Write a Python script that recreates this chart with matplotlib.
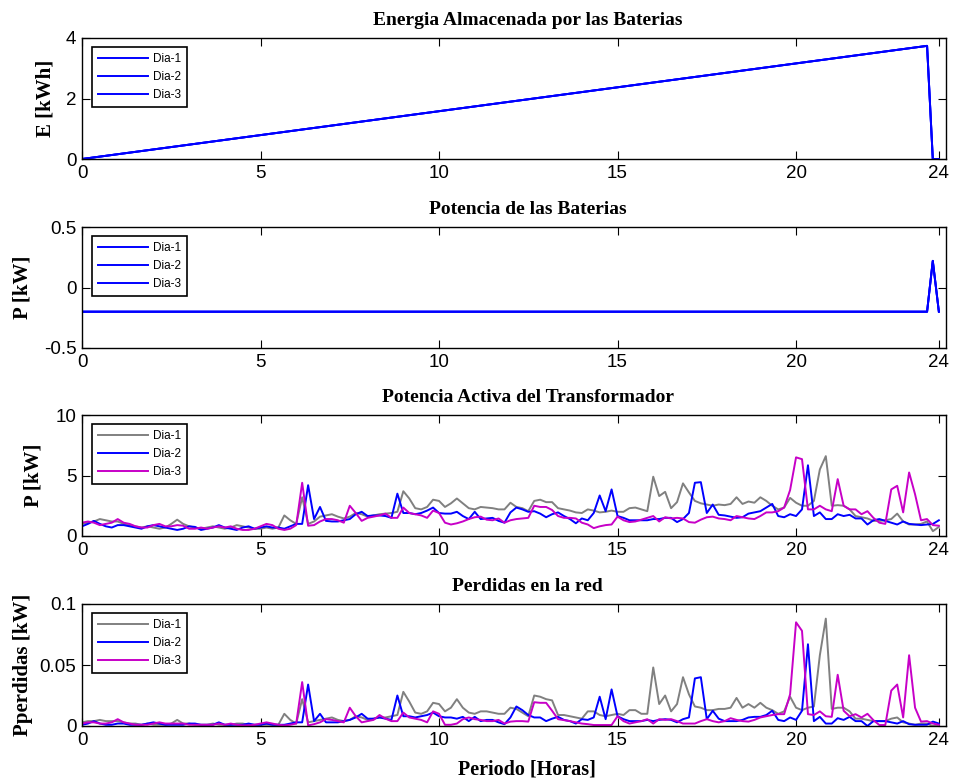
import numpy as np
import matplotlib
matplotlib.use("Agg")
import matplotlib.pyplot as plt

# ---------------- data ----------------
dias = ["Dia-1", "Dia-2", "Dia-3"]

# battery energy / power (breakpoints of the daily profile)
bat_hours_e = [0.0, 23.67, 23.83, 24.0]
bat_energy = [0.0, 3.74, 0.0, 0.0]
bat_hours_p = [0.0, 23.67, 23.83, 24.0]
bat_power = [-0.2, -0.2, 0.22, -0.2]

# transformer active power, 10-minute samples (kW)
p_dia1 = [1.0, 1.1, 1.2, 1.4, 1.3, 1.2, 1.2, 1.0, 0.9, 0.8, 0.7, 0.8, 0.7, 0.6, 0.7, 1.0,
          1.35, 1.0, 0.8, 0.7, 0.6, 0.7, 0.8, 0.7, 0.6, 0.7, 0.9, 0.8, 0.7, 0.6, 0.6, 0.7,
          0.6, 0.7, 1.7, 1.3, 1.0, 3.2, 1.0, 1.2, 1.6, 1.7, 1.8, 1.6, 1.45, 1.6, 1.9, 1.8,
          1.6, 1.7, 1.8, 1.85, 1.9, 2.0, 3.7, 3.1, 2.3, 2.2, 2.4, 3.0, 2.9, 2.4, 2.7, 3.1,
          2.7, 2.3, 2.2, 2.4, 2.35, 2.3, 2.2, 2.2, 2.75, 2.4, 2.3, 2.05, 2.9, 3.0, 2.8, 2.8,
          2.3, 2.2, 2.1, 1.95, 1.9, 2.2, 2.1, 1.95, 2.0, 2.1, 2.0, 2.0, 2.3, 2.35, 2.2, 2.05,
          4.9, 3.3, 3.65, 2.3, 2.8, 4.35, 3.6, 2.9, 2.7, 2.6, 2.5, 2.6, 2.55, 2.65, 3.2, 2.65,
          2.85, 2.75, 3.2, 2.9, 2.5, 2.2, 2.35, 3.15, 2.75, 2.5, 2.5, 2.9, 5.5, 6.6, 2.5, 2.55,
          2.5, 2.2, 1.65, 1.55, 1.45, 1.25, 1.25, 1.3, 1.4, 1.85, 1.2, 0.95, 0.95, 1.0, 1.2, 0.4,
          0.75]
p_dia2 = [0.8, 1.0, 1.25, 1.0, 0.8, 0.7, 0.9, 0.9, 0.8, 0.7, 0.6, 0.8, 0.9, 0.8, 0.7, 0.6,
          0.5, 0.6, 0.8, 0.75, 0.5, 0.6, 0.7, 0.9, 0.7, 0.6, 0.5, 0.7, 0.8, 0.6, 0.7, 0.8,
          0.7, 0.7, 0.6, 0.8, 1.0, 1.0, 4.2, 1.4, 2.4, 1.25, 1.2, 1.2, 1.3, 1.4, 1.8, 2.0,
          1.65, 1.7, 1.7, 1.65, 1.5, 3.5, 1.9, 1.9, 1.8, 1.9, 2.1, 2.35, 1.9, 1.85, 1.85, 2.0,
          1.65, 1.4, 2.0, 1.4, 1.45, 1.5, 1.25, 1.1, 1.95, 2.35, 2.2, 2.0, 2.05, 1.85, 1.55, 1.8,
          1.95, 1.65, 1.4, 1.05, 1.45, 1.3, 1.9, 3.35, 2.05, 3.85, 1.65, 1.5, 1.3, 1.3, 1.3, 1.3,
          1.4, 1.4, 1.5, 1.5, 1.15, 1.4, 1.9, 4.4, 4.45, 1.9, 2.6, 1.75, 1.7, 1.6, 1.5, 1.55,
          1.85, 1.95, 2.05, 2.35, 2.65, 1.65, 1.55, 1.8, 1.65, 2.2, 5.85, 1.65, 1.95, 1.4, 1.4, 1.8,
          1.65, 1.75, 1.45, 1.45, 0.95, 1.3, 1.4, 1.25, 1.1, 0.95, 1.2, 1.0, 0.95, 0.9, 0.95, 1.0,
          1.3]
p_dia3 = [1.1, 1.2, 1.1, 0.9, 1.0, 1.1, 1.4, 1.1, 1.0, 0.8, 0.7, 0.7, 0.9, 1.0, 0.8, 0.8,
          0.9, 0.85, 0.6, 0.6, 0.7, 0.6, 0.7, 0.8, 0.7, 0.8, 0.6, 0.5, 0.5, 0.6, 0.8, 1.0,
          0.9, 0.6, 0.5, 0.6, 0.9, 4.4, 0.85, 0.9, 1.2, 1.4, 1.4, 1.3, 1.1, 2.5, 1.9, 1.25,
          1.5, 1.6, 1.7, 1.85, 1.5, 1.5, 2.35, 1.9, 1.8, 1.7, 1.5, 2.1, 1.9, 1.1, 0.95, 1.05,
          1.2, 1.4, 1.55, 1.6, 1.35, 1.3, 1.45, 1.1, 1.3, 1.4, 1.45, 1.5, 2.5, 2.4, 2.4, 2.15,
          1.65, 1.5, 1.5, 1.45, 1.1, 0.95, 0.65, 0.8, 0.9, 0.95, 1.6, 1.3, 1.15, 1.2, 1.35, 1.5,
          1.65, 1.2, 1.55, 1.45, 1.5, 1.45, 1.15, 1.1, 1.35, 1.55, 1.6, 1.45, 1.4, 1.3, 1.65, 1.55,
          1.45, 1.4, 1.65, 1.95, 1.95, 2.05, 2.35, 3.8, 6.5, 6.35, 2.2, 2.2, 2.5, 2.2, 2.05, 4.7,
          2.5, 2.2, 2.2, 1.8, 2.05, 1.5, 1.1, 1.0, 3.85, 4.15, 1.95, 5.25, 3.45, 1.3, 1.4, 0.9,
          0.85]

# network losses, 10-minute samples (kW)
l_dia1 = [0.003, 0.004, 0.004, 0.005, 0.004, 0.004, 0.004, 0.003, 0.002, 0.002, 0.001, 0.002,
          0.001, 0.001, 0.001, 0.002, 0.005, 0.002, 0.002, 0.001, 0.001, 0.001, 0.002, 0.001,
          0.001, 0.001, 0.002, 0.002, 0.001, 0.001, 0.001, 0.001, 0.001, 0.001, 0.010, 0.005,
          0.002, 0.022, 0.003, 0.004, 0.005, 0.006, 0.007, 0.005, 0.004, 0.005, 0.008, 0.007,
          0.005, 0.006, 0.007, 0.007, 0.008, 0.009, 0.028, 0.020, 0.011, 0.010, 0.012, 0.019,
          0.018, 0.012, 0.015, 0.022, 0.015, 0.011, 0.010, 0.012, 0.012, 0.011, 0.010, 0.010,
          0.015, 0.014, 0.011, 0.008, 0.025, 0.024, 0.022, 0.021, 0.009, 0.009, 0.008, 0.007,
          0.006, 0.012, 0.012, 0.009, 0.008, 0.009, 0.010, 0.009, 0.013, 0.013, 0.010, 0.010,
          0.048, 0.018, 0.025, 0.012, 0.018, 0.040, 0.026, 0.016, 0.015, 0.013, 0.013, 0.014,
          0.014, 0.015, 0.023, 0.015, 0.018, 0.015, 0.019, 0.015, 0.013, 0.010, 0.012, 0.024,
          0.015, 0.013, 0.015, 0.016, 0.058, 0.088, 0.014, 0.015, 0.015, 0.012, 0.006, 0.006,
          0.005, 0.004, 0.004, 0.004, 0.006, 0.007, 0.003, 0.002, 0.001, 0.002, 0.002, 0.000,
          0.001]
l_dia2 = [0.001, 0.002, 0.004, 0.002, 0.001, 0.001, 0.002, 0.002, 0.001, 0.001, 0.001, 0.002,
          0.003, 0.002, 0.001, 0.001, 0.001, 0.001, 0.002, 0.002, 0.001, 0.001, 0.001, 0.003,
          0.001, 0.001, 0.001, 0.001, 0.002, 0.001, 0.001, 0.002, 0.001, 0.001, 0.001, 0.002,
          0.003, 0.003, 0.034, 0.004, 0.010, 0.003, 0.003, 0.003, 0.004, 0.005, 0.007, 0.010,
          0.006, 0.006, 0.007, 0.006, 0.005, 0.025, 0.008, 0.008, 0.007, 0.008, 0.009, 0.011,
          0.008, 0.007, 0.007, 0.006, 0.0075, 0.004, 0.0075, 0.004, 0.005, 0.005, 0.003, 0.0015,
          0.007, 0.016, 0.013, 0.009, 0.007, 0.007, 0.004, 0.006, 0.0075, 0.005, 0.004, 0.002,
          0.0056, 0.005, 0.007, 0.024, 0.0056, 0.030, 0.008, 0.0056, 0.004, 0.004, 0.004, 0.005,
          0.004, 0.005, 0.0056, 0.005, 0.003, 0.0056, 0.007, 0.039, 0.040, 0.0056, 0.0125, 0.006,
          0.004, 0.004, 0.004, 0.005, 0.007, 0.0075, 0.0075, 0.009, 0.0125, 0.005, 0.004, 0.007,
          0.005, 0.0125, 0.067, 0.004, 0.0075, 0.002, 0.002, 0.0064, 0.005, 0.0075, 0.004, 0.004,
          0.000, 0.004, 0.004, 0.004, 0.003, 0.002, 0.004, 0.0015, 0.001, 0.001, 0.001, 0.0036,
          0.002]
l_dia3 = [0.002, 0.003, 0.003, 0.002, 0.002, 0.003, 0.0056, 0.003, 0.002, 0.001, 0.001, 0.001,
          0.002, 0.003, 0.002, 0.002, 0.002, 0.002, 0.001, 0.001, 0.001, 0.001, 0.001, 0.002,
          0.001, 0.002, 0.001, 0.0005, 0.0005, 0.001, 0.002, 0.003, 0.002, 0.001, 0.0005, 0.001,
          0.002, 0.036, 0.0005, 0.0015, 0.003, 0.0056, 0.005, 0.004, 0.003, 0.015, 0.008, 0.003,
          0.004, 0.005, 0.009, 0.006, 0.004, 0.004, 0.011, 0.007, 0.006, 0.005, 0.003, 0.012,
          0.010, 0.001, 0.001, 0.002, 0.0056, 0.007, 0.0056, 0.005, 0.004, 0.004, 0.005, 0.002,
          0.0036, 0.004, 0.004, 0.0036, 0.0195, 0.019, 0.019, 0.0125, 0.0056, 0.0048, 0.004, 0.003,
          0.002, 0.0015, 0.0008, 0.0008, 0.0008, 0.0008, 0.008, 0.004, 0.002, 0.003, 0.004, 0.0056,
          0.002, 0.0056, 0.005, 0.0056, 0.004, 0.002, 0.002, 0.002, 0.004, 0.0056, 0.004, 0.003,
          0.004, 0.0064, 0.005, 0.004, 0.0036, 0.005, 0.007, 0.008, 0.009, 0.0097, 0.0097, 0.026,
          0.085, 0.078, 0.0097, 0.009, 0.012, 0.008, 0.0075, 0.042, 0.0125, 0.008, 0.0097, 0.007,
          0.010, 0.0048, 0.0008, 0.0008, 0.029, 0.034, 0.007, 0.058, 0.015, 0.0036, 0.004, 0.002,
          0.001]

titles = ["Energia Almacenada por las Baterias", "Potencia de las Baterias",
          "Potencia Activa del Transformador", "Perdidas en la red"]
ylabels = ["E [kWh]", "P [kW]", "P [kW]", "Pperdidas [kW]"]
xlabel = "Periodo [Horas]"
xticks = [0, 5, 10, 15, 20, 24]

# ---------------- drawing ----------------
hours = np.arange(len(p_dia1)) / 6.0

serif = "Liberation Serif"
sans = "Liberation Sans"
plt.rcParams["font.family"] = sans

gray = (0.5, 0.5, 0.5)
blue = (0.0, 0.0, 1.0)
mag = (0.78, 0.0, 0.78)

fig = plt.figure(figsize=(9.56, 7.8), dpi=100)
W = 864 / 956
rects = [
    (82 / 956, 1 - 159 / 780, W, 121 / 780),
    (82 / 956, 1 - 348 / 780, W, 121 / 780),
    (82 / 956, 1 - 536 / 780, W, 121 / 780),
    (82 / 956, 1 - 726 / 780, W, 122 / 780),
]
axes = [fig.add_axes(r) for r in rects]

lw = 1.4
# battery energy: three identical days
for d in dias:
    axes[0].plot(bat_hours_e, bat_energy, color=blue, lw=lw, label=d)
for d in dias:
    axes[1].plot(bat_hours_p, bat_power, color=blue, lw=lw, label=d)

for series, col, d in zip([p_dia1, p_dia2, p_dia3], [gray, blue, mag], dias):
    axes[2].plot(hours, series, color=col, lw=lw, label=d)
for series, col, d in zip([l_dia1, l_dia2, l_dia3], [gray, blue, mag], dias):
    axes[3].plot(hours, series, color=col, lw=lw, label=d)

ylims = [(0, 4), (-0.5, 0.5), (0, 10), (0, 0.1)]
yticks = [[0, 2, 4], [-0.5, 0, 0.5], [0, 5, 10], [0, 0.05, 0.1]]
yticklabels = [["0", "2", "4"], ["-0.5", "0", "0.5"], ["0", "5", "10"], ["0", "0.05", "0.1"]]
ylabel_x = [-0.031, -0.057, -0.045, -0.057]

for i, ax in enumerate(axes):
    ax.set_xlim(0, 24.2)
    ax.set_ylim(*ylims[i])
    ax.set_xticks(xticks)
    ax.set_xticklabels([str(v) for v in xticks])
    ax.set_yticks(yticks[i])
    ax.set_yticklabels(yticklabels[i])
    ax.tick_params(direction="in", length=6, width=0.8, top=True, right=True,
                   labelsize=13.5, pad=4, colors="black")
    for s in ax.spines.values():
        s.set_linewidth(1.0)
        s.set_color("black")
    ax.set_title(titles[i], fontfamily=serif, fontweight="bold", fontsize=14, pad=9.5,
                 x=0.516)
    ax.set_ylabel(ylabels[i], fontfamily=serif, fontweight="bold", fontsize=15)
    ax.yaxis.set_label_coords(ylabel_x[i], 0.5)
    leg = ax.legend(loc="upper left", bbox_to_anchor=(0.012, 0.925), frameon=True,
                    fancybox=False, framealpha=1, edgecolor="black", fontsize=8.5,
                    handlelength=4.2, handletextpad=0.4, labelspacing=0.5,
                    borderpad=0.5, borderaxespad=0.0)
    leg.get_frame().set_linewidth(1.2)

axes[3].set_xlabel(xlabel, fontfamily=serif, fontweight="bold", fontsize=14.5)
axes[3].xaxis.set_label_coords(0.515, -0.275)

fig.savefig("out.png", dpi=100)
